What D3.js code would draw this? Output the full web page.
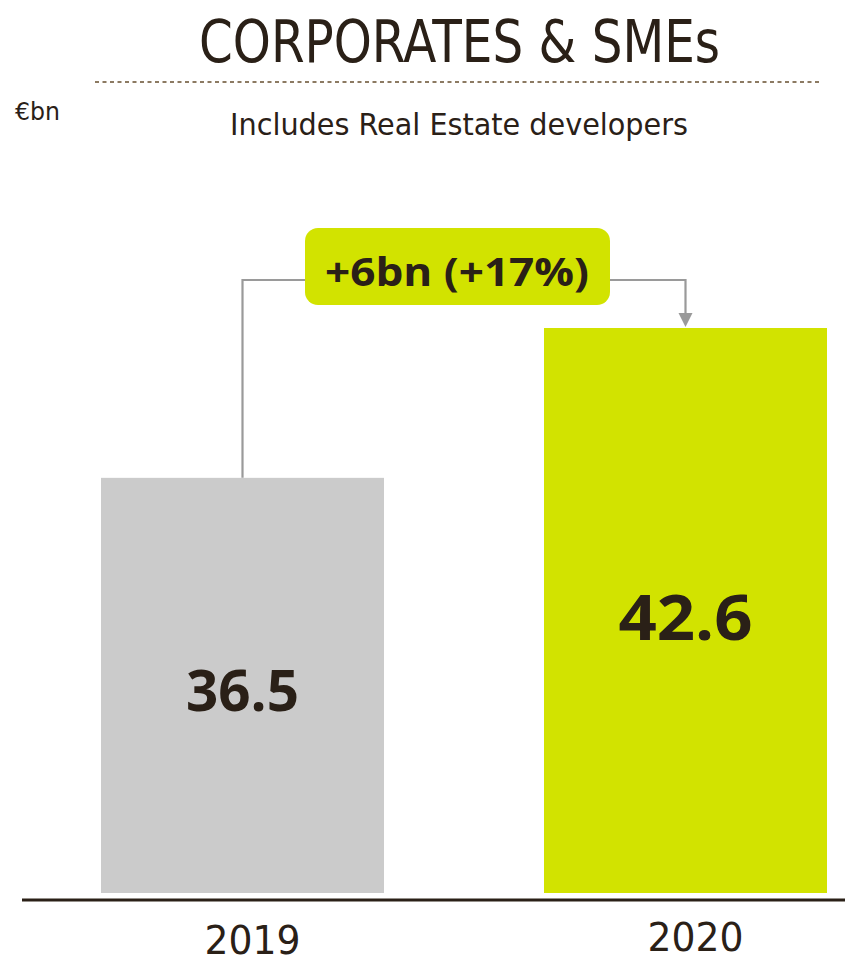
<!DOCTYPE html>
<html>
<head>
<meta charset="utf-8">
<script src="https://cdn.jsdelivr.net/npm/d3@7"></script>
<style>
  html, body { margin: 0; padding: 0; background: #fff; }
  svg { display: block; }
</style>
</head>
<body>
<svg id="chart" width="845" height="964"></svg>
<script>
// Loan book, €bn
const years = ["2019", "2020"];
const values = [36.5, 42.6];
const valueLabels = ["36.5", "42.6"];
const barColors = ["#cbcbcb", "#d2e300"];
const changeLabel = "+6bn (+17%)";
const titleText = "CORPORATES & SMEs";
const subtitleText = "Includes Real Estate developers";
const unitText = "€bn";

const ink = "#2a2017";
const svg = d3.select("#chart");

// bar positions
const xb = d3.scaleOrdinal().domain(years).range([101, 544]);
const barW = 283;
// truncated value axis
const y = d3.scaleLinear().domain([19.6, 42.6]).range([893, 328]);

// Title
svg.append("text")
  .attr("x", 199).attr("y", 62)
  .attr("font-family", "'DejaVu Sans Condensed', 'DejaVu Sans', sans-serif")
  .attr("font-size", 58)
  .attr("fill", ink)
  .attr("textLength", 521)
  .attr("lengthAdjust", "spacingAndGlyphs")
  .text(titleText);

// Dotted rule under the title
svg.append("line")
  .attr("x1", 95).attr("x2", 820).attr("y1", 82).attr("y2", 82)
  .attr("stroke", "#8c7a62").attr("stroke-width", 2)
  .attr("stroke-dasharray", "4 3.5");

// Unit
svg.append("text")
  .attr("x", 15).attr("y", 120)
  .attr("font-family", "'DejaVu Sans Condensed', sans-serif")
  .attr("font-size", 24)
  .attr("fill", ink)
  .attr("textLength", 45).attr("lengthAdjust", "spacingAndGlyphs")
  .text(unitText);

// Subtitle
svg.append("text")
  .attr("x", 459).attr("y", 135)
  .attr("text-anchor", "middle")
  .attr("font-family", "'DejaVu Sans Condensed', sans-serif")
  .attr("font-size", 30)
  .attr("fill", ink)
  .attr("textLength", 458).attr("lengthAdjust", "spacingAndGlyphs")
  .text(subtitleText);

// Bars
const data = years.map((yr, i) => ({ year: yr, value: values[i], label: valueLabels[i], color: barColors[i] }));
svg.selectAll("rect.bar").data(data).enter().append("rect")
  .attr("class", "bar")
  .attr("x", d => xb(d.year))
  .attr("width", barW)
  .attr("y", d => y(d.value))
  .attr("height", d => y.range()[0] - y(d.value))
  .attr("fill", d => d.color);

// Value labels inside bars
const valSize = [57, 63];
const valLen = [113, 134];
svg.selectAll("text.val").data(data).enter().append("text")
  .attr("class", "val")
  .attr("x", d => xb(d.year) + barW / 2)
  .attr("y", (d, i) => (y(d.value) + y.range()[0]) / 2 + (i === 0 ? 26 : 29))
  .attr("text-anchor", "middle")
  .attr("font-family", "'Open Sans', 'Noto Sans', sans-serif")
  .attr("font-weight", 700)
  .attr("font-size", (d, i) => valSize[i])
  .attr("textLength", (d, i) => valLen[i])
  .attr("lengthAdjust", "spacingAndGlyphs")
  .attr("fill", ink)
  .text(d => d.label);

// Baseline
svg.append("line")
  .attr("x1", 22).attr("x2", 845).attr("y1", 900).attr("y2", 900)
  .attr("stroke", ink).attr("stroke-width", 3);

// Year labels
svg.selectAll("text.year").data(data).enter().append("text")
  .attr("class", "year")
  .attr("x", d => xb(d.year) + barW / 2 + 10)
  .attr("y", (d, i) => i === 0 ? 954 : 951)
  .attr("text-anchor", "middle")
  .attr("font-family", "'DejaVu Sans Condensed', sans-serif")
  .attr("font-size", 39)
  .attr("fill", ink)
  .attr("textLength", 96).attr("lengthAdjust", "spacingAndGlyphs")
  .text(d => d.year);

// Change connector
const c0 = xb(years[0]) + barW / 2;
const c1 = xb(years[1]) + barW / 2;
const lineY = 280;
const connColor = "#9a9a9a";
svg.append("path")
  .attr("d", `M${c0},${y(values[0])} V${lineY} H${c1} V${y(values[1]) - 14}`)
  .attr("fill", "none").attr("stroke", connColor).attr("stroke-width", 2.2);
svg.append("path")
  .attr("d", `M${c1 - 7},${y(values[1]) - 15} L${c1 + 7},${y(values[1]) - 15} L${c1},${y(values[1]) - 1} Z`)
  .attr("fill", connColor);

// Change badge
svg.append("rect")
  .attr("x", 305).attr("y", 228).attr("width", 305).attr("height", 77)
  .attr("rx", 13).attr("ry", 13)
  .attr("fill", "#d2e300");
svg.append("text")
  .attr("x", 457).attr("y", 286)
  .attr("text-anchor", "middle")
  .attr("font-family", "'Open Sans', 'Noto Sans', sans-serif")
  .attr("font-weight", 700)
  .attr("font-size", 40)
  .attr("textLength", 264).attr("lengthAdjust", "spacingAndGlyphs")
  .attr("fill", ink)
  .text(changeLabel);
</script>
</body>
</html>
